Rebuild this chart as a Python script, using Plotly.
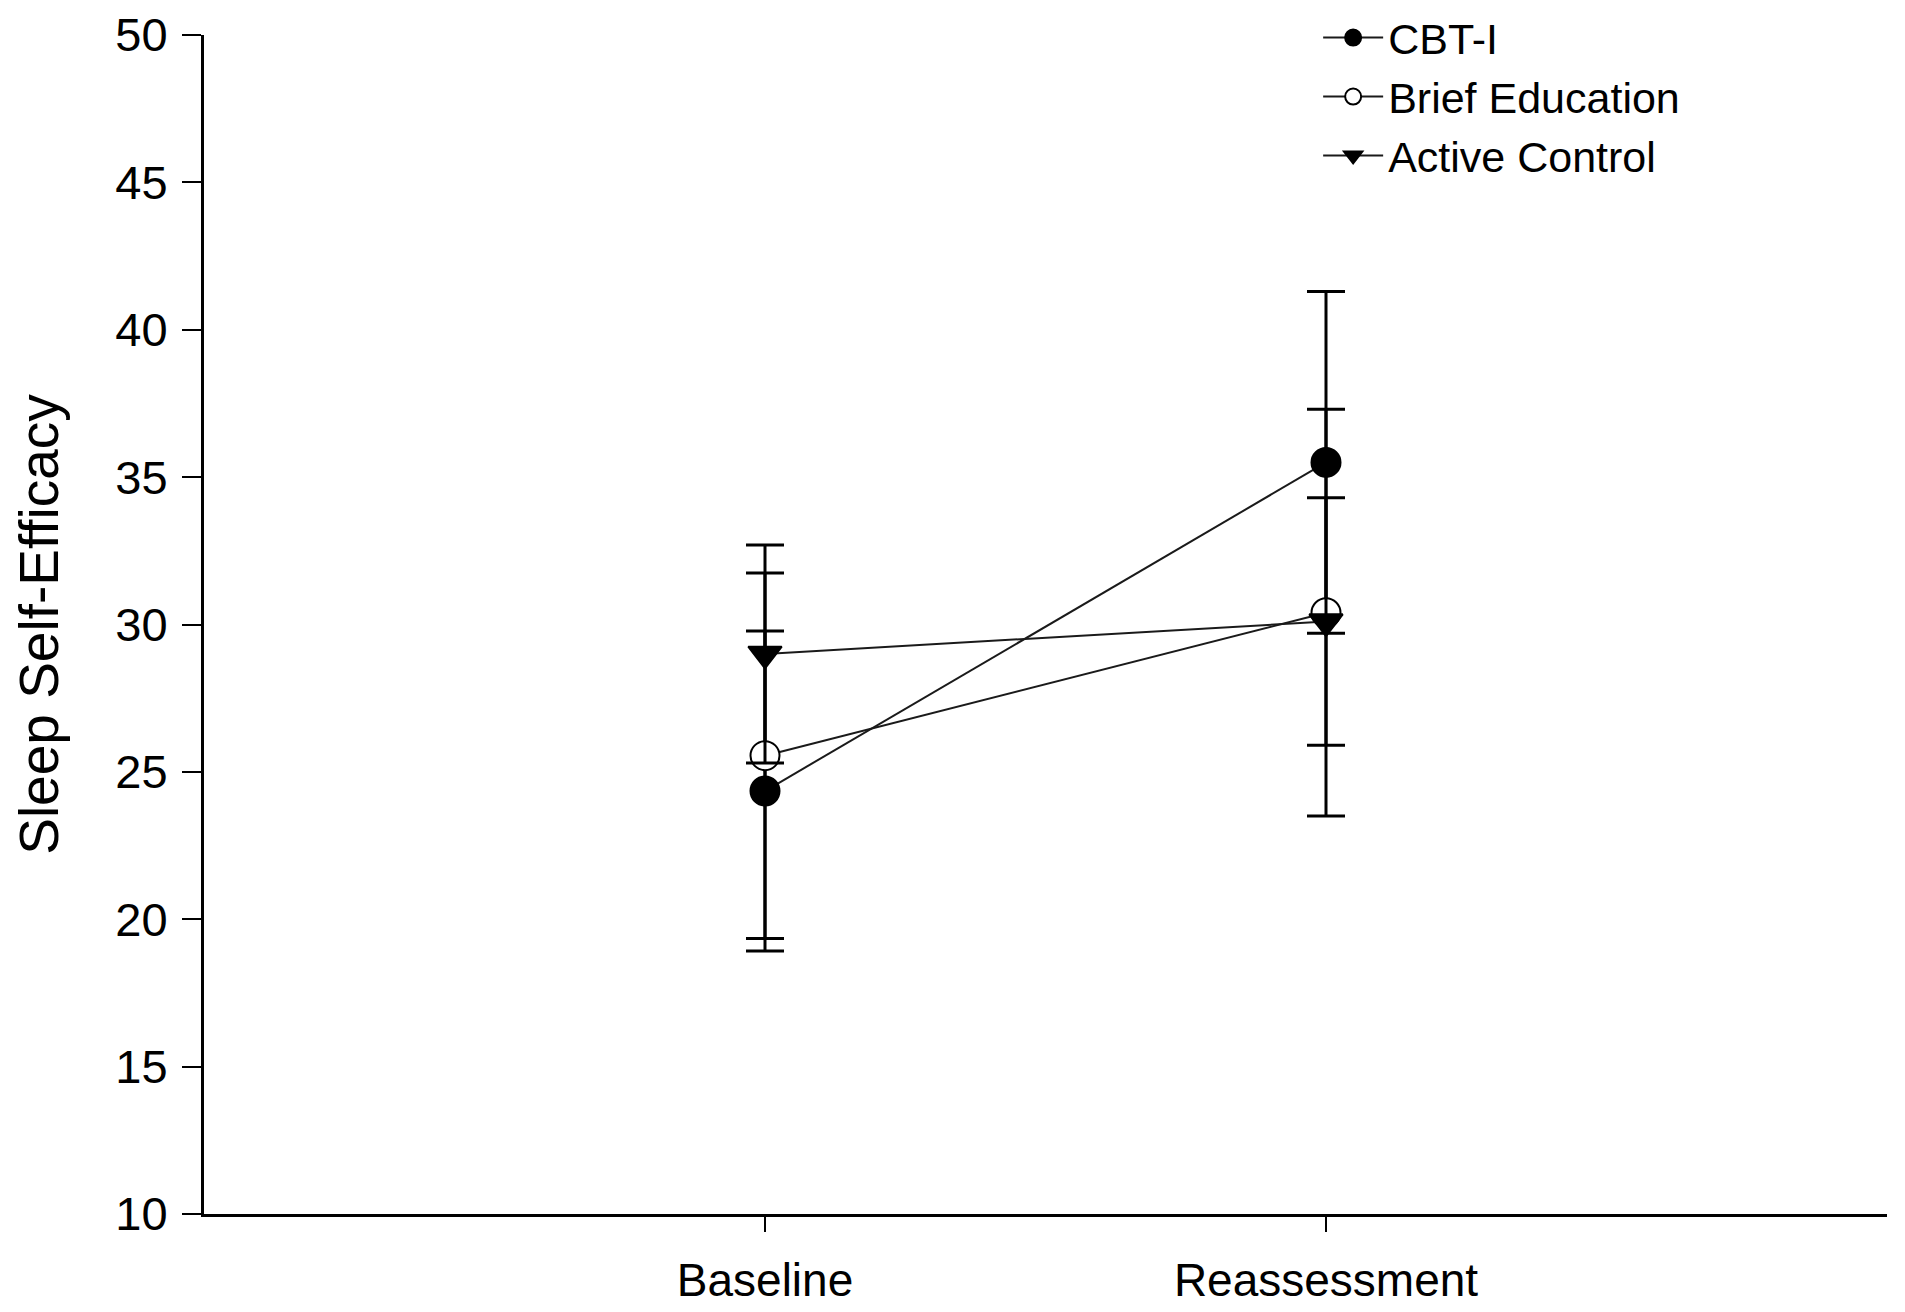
import plotly.graph_objects as go

# time points on the x axis
timepoints = ["Baseline", "Reassessment"]
x_pos = [1, 2]

# group means and error bar sizes
cbt_mean = [24.35, 35.5]
cbt_err = [5.43, 5.8]

brief_mean = [25.55, 30.4]
brief_err = [6.2, 6.9]

active_mean = [29.0, 30.1]
active_err = [3.7, 4.2]

y_ticks = [10, 15, 20, 25, 30, 35, 40, 45, 50]

font_name = "Liberation Sans, Arial, sans-serif"

fig = go.Figure()


def add_group(name, means, errs, symbol, fill):
    fig.add_trace(
        go.Scatter(
            x=x_pos,
            y=means,
            mode='lines+markers',
            name=name,
            line=dict(color='#1a1a1a', width=2),
            marker=dict(
                symbol=symbol,
                size=29,
                color=fill,
                line=dict(color='black', width=2),
            ),
            error_y=dict(
                type='data',
                array=errs,
                symmetric=True,
                color='black',
                thickness=3,
                width=19,
            ),
        )
    )


add_group('CBT-I', cbt_mean, cbt_err, 'circle', 'black')
add_group('Brief Education', brief_mean, brief_err, 'circle', 'white')
add_group('Active Control', active_mean, active_err, 'triangle-down', 'black')

# page body adds an 8px margin, so the figure is shifted by 8px
fig.update_layout(
    width=1889,
    height=1304,
    plot_bgcolor='white',
    paper_bgcolor='white',
    font=dict(family=font_name, size=46, color='black'),
    margin=dict(l=196, r=10, t=27, b=98, autoexpand=False),
    showlegend=True,
    legend=dict(
        x=0.662,
        y=1.027,
        xanchor='left',
        yanchor='top',
        bgcolor='rgba(0,0,0,0)',
        font=dict(family=font_name, size=43, color='black'),
        itemwidth=60,
        tracegroupgap=0,
    ),
    xaxis=dict(
        range=[0, 3],
        tickvals=x_pos,
        ticktext=timepoints,
        showgrid=False,
        zeroline=False,
        showline=True,
        linecolor='black',
        linewidth=3,
        ticks='outside',
        ticklen=15,
        tickwidth=2,
        tickcolor='black',
        ticklabelstandoff=9,
        tickfont=dict(family=font_name, size=46),
    ),
    yaxis=dict(
        title=dict(text='Sleep Self-Efficacy', standoff=42,
                   font=dict(family=font_name, size=55)),
        range=[10, 50],
        tickvals=y_ticks,
        showgrid=False,
        zeroline=False,
        showline=True,
        linecolor='black',
        linewidth=3,
        ticks='outside',
        ticklen=19,
        tickwidth=2,
        tickcolor='black',
        ticklabelstandoff=5,
        tickfont=dict(family=font_name, size=47),
    ),
)

fig.write_html("out.html")
